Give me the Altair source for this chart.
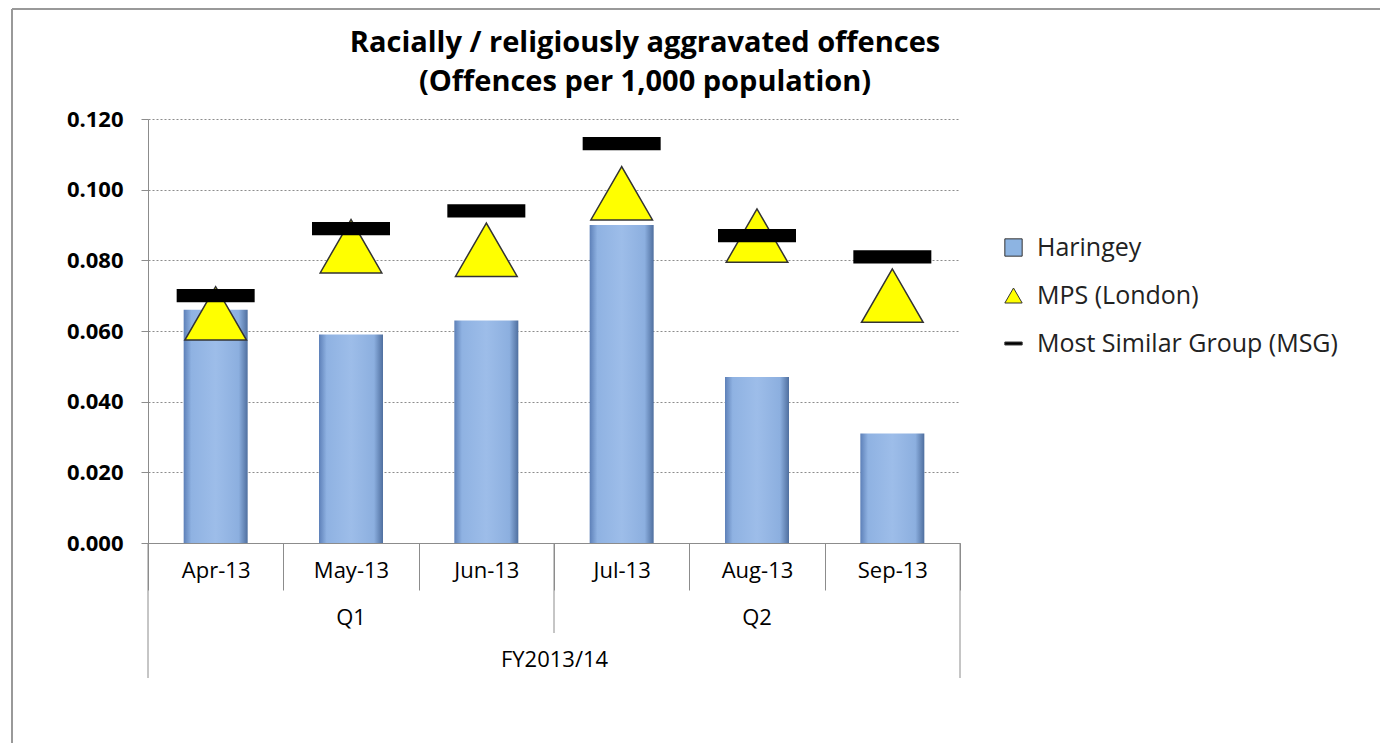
import altair as alt
import pandas as pd

# ---- data ----
months = ["Apr-13", "May-13", "Jun-13", "Jul-13", "Aug-13", "Sep-13"]
haringey = [0.066, 0.059, 0.063, 0.090, 0.047, 0.031]
mps_london = [0.065, 0.084, 0.083, 0.099, 0.087, 0.070]
msg = [0.070, 0.089, 0.094, 0.113, 0.087, 0.081]
series = ["Haringey", "MPS (London)", "Most Similar Group (MSG)"]
quarters = ["Q1", "Q2"]
quarter_mid = ["May-13", "Aug-13"]
quarter_split = ["Jul-13"]
fy_label = "FY2013/14"
y_ticks = [0.0, 0.02, 0.04, 0.06, 0.08, 0.10, 0.12]
title_lines = ["Racially / religiously aggravated offences", "(Offences per 1,000 population)"]

W, H = 812, 424
FONT = "Open Sans"
GRID = "#8c8c8c"

df = pd.DataFrame({"month": months, "Haringey": haringey, "MPS": mps_london, "MSG": msg})
df_mps = pd.DataFrame({"month": months, "value": mps_london, "series": series[1]})
df_msg = pd.DataFrame({"month": months, "value": msg, "series": series[2]})
df_q = pd.DataFrame({"month": quarter_mid, "label": quarters})
df_split = pd.DataFrame({"month": quarter_split})
df_first = pd.DataFrame({"month": [months[0]]})
df_last = pd.DataFrame({"month": [months[-1]]})

xscale = alt.Scale(domain=months, paddingInner=0, paddingOuter=0)
yscale = alt.Scale(domain=[0, 0.12], nice=False)

dash_path = "M-1,-0.17L1,-0.17L1,0.17L-1,0.17Z"
color_scale = alt.Scale(domain=series, range=["#8db4e2", "#ffff00", "#000000"])
shape_scale = alt.Scale(domain=series, range=["square", "triangle-up", dash_path])

x_axis = alt.Axis(
    title=fy_label, labelFont=FONT, labelFontSize=22, labelColor="#000",
    titleFont=FONT, titleFontSize=22, titleFontWeight="normal", titleColor="#000",
    titlePadding=59, tickBand="extent", tickSize=47, tickColor=GRID,
    domainColor=GRID, labelPadding=-30, labelAngle=0, grid=False,
)
y_axis = alt.Axis(
    title=None, values=y_ticks, format=".3f", labelFont=FONT, labelFontSize=22,
    labelFontWeight="bold", labelColor="#000", labelPadding=18, tickSize=7,
    tickColor=GRID, domainColor=GRID, grid=True, gridColor=GRID, gridDash=[2, 2],
)

bar_fill = alt.Gradient(
    gradient="linear", x1=0, x2=1, y1=0, y2=0,
    stops=[
        alt.GradientStop(color="#5d80b8", offset=0),
        alt.GradientStop(color="#8fb2e2", offset=0.12),
        alt.GradientStop(color="#9dbde9", offset=0.5),
        alt.GradientStop(color="#8cafdf", offset=0.86),
        alt.GradientStop(color="#4f6f9f", offset=1),
    ],
)

bars = alt.Chart(df).mark_bar(width=64, fill=bar_fill).encode(
    x=alt.X("month:N", scale=xscale, axis=x_axis, sort=months),
    y=alt.Y("Haringey:Q", scale=yscale, axis=y_axis),
)

legend = alt.Legend(
    title=None, orient="none", legendX=853, legendY=116, labelFont=FONT,
    labelFontSize=25, labelColor="#222", symbolSize=300, rowPadding=22,
    symbolStrokeColor="#333", symbolStrokeWidth=1, labelLimit=420, labelOffset=11,
)

mps_pts = alt.Chart(df_mps).mark_point(filled=True, size=3800, stroke="#333", strokeWidth=1.5, opacity=1).encode(
    x=alt.X("month:N", scale=xscale),
    y=alt.Y("value:Q", scale=yscale),
    color=alt.Color("series:N", scale=color_scale, legend=legend),
    shape=alt.Shape("series:N", scale=shape_scale, legend=legend),
)

msg_pts = alt.Chart(df_msg).mark_point(filled=True, size=6084, opacity=1).encode(
    x=alt.X("month:N", scale=xscale),
    y=alt.Y("value:Q", scale=yscale),
    color=alt.Color("series:N", scale=color_scale, legend=legend),
    shape=alt.Shape("series:N", scale=shape_scale, legend=legend),
)

q_text = alt.Chart(df_q).mark_text(font=FONT, fontSize=22, color="#000").encode(
    x=alt.X("month:N", scale=xscale),
    y=alt.value(H + 75),
    text="label:N",
)

split_rule = alt.Chart(df_split).mark_rule(color=GRID, strokeWidth=1).encode(
    x=alt.X("month:N", scale=xscale, bandPosition=0),
    y=alt.value(H), y2=alt.value(H + 90),
)
left_rule = alt.Chart(df_first).mark_rule(color=GRID, strokeWidth=1).encode(
    x=alt.X("month:N", scale=xscale, bandPosition=0),
    y=alt.value(H), y2=alt.value(H + 135),
)
right_rule = alt.Chart(df_last).mark_rule(color=GRID, strokeWidth=1).encode(
    x=alt.X("month:N", scale=xscale, bandPosition=1),
    y=alt.value(H), y2=alt.value(H + 135),
)

frame_top = alt.Chart(df_first).mark_rule(color="#999", strokeWidth=2).encode(
    x=alt.value(-136), x2=alt.value(1300), y=alt.value(-110)
)
frame_left = alt.Chart(df_first).mark_rule(color="#999", strokeWidth=2).encode(
    x=alt.value(-136), y=alt.value(-110), y2=alt.value(700)
)

title1 = alt.Chart(df_first).mark_text(
    text=title_lines[0], font=FONT, fontSize=29, fontWeight="bold", color="#000", baseline="middle"
).encode(x=alt.value(497), y=alt.value(-76))
title2 = alt.Chart(df_first).mark_text(
    text=title_lines[1], font=FONT, fontSize=29, fontWeight="bold", color="#000", baseline="middle"
).encode(x=alt.value(497), y=alt.value(-37))

chart = alt.layer(
    frame_top, frame_left, title1, title2, bars, split_rule, left_rule, right_rule,
    q_text, mps_pts, msg_pts
).properties(
    width=W, height=H,
    autosize=alt.AutoSizeParams(type="none"),
    padding={"left": 140, "top": 111, "right": 420, "bottom": 200},
).configure_view(stroke=None)

chart.save("out.html", embed_options={"renderer": "svg", "actions": False})
